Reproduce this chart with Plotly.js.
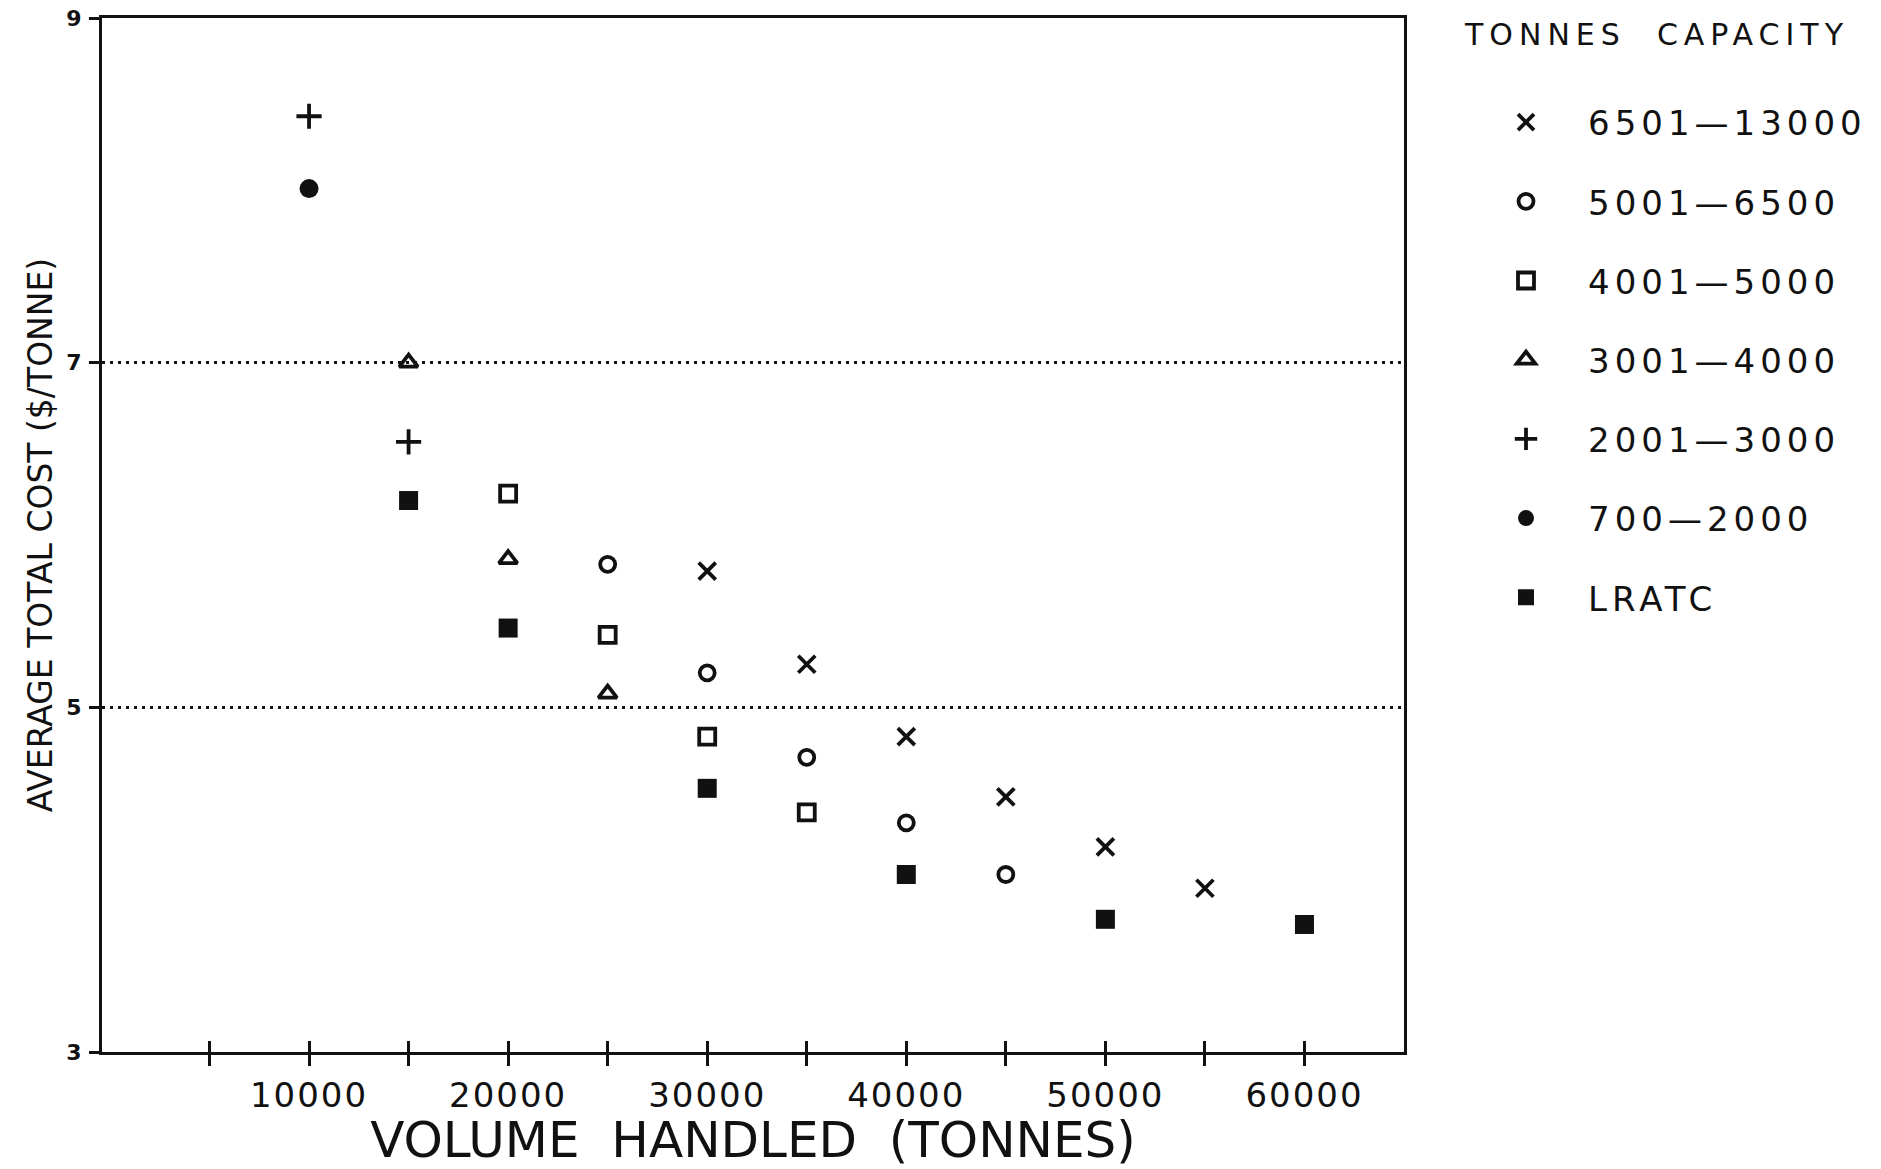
<!DOCTYPE html>
<html>
<head>
<meta charset="utf-8">
<script src="https://cdn.plot.ly/plotly-3.0.1.min.js"></script>
<style>
body{margin:0;background:#fff;}
#chart{width:1881px;height:1169px;}
.legendtext{letter-spacing:5px;}
.annotation-text{letter-spacing:6px;}
g.xtick text{letter-spacing:2px;}
</style>
</head>
<body>
<div id="chart"></div>
<script>
// ---- data ----
const legendTitle = "TONNES&nbsp;&nbsp;CAPACITY";
const seriesNames = ["6501\u201413000", "5001\u20146500", "4001\u20145000", "3001\u20144000", "2001\u20143000", "700\u20142000", "LRATC"];

const x_6501_13000 = [30000, 35000, 40000, 45000, 50000, 55000];
const y_6501_13000 = [5.79, 5.25, 4.83, 4.48, 4.19, 3.95];

const x_5001_6500 = [25000, 30000, 35000, 40000, 45000];
const y_5001_6500 = [5.83, 5.20, 4.71, 4.33, 4.03];

const x_4001_5000 = [20000, 25000, 30000, 35000];
const y_4001_5000 = [6.24, 5.42, 4.83, 4.39];

const x_3001_4000 = [15000, 20000, 25000];
const y_3001_4000 = [7.00, 5.86, 5.08];

const x_2001_3000 = [10000, 15000];
const y_2001_3000 = [8.43, 6.54];

const x_700_2000 = [10000];
const y_700_2000 = [8.01];

const x_lratc = [15000, 20000, 30000, 40000, 50000, 60000];
const y_lratc = [6.20, 5.46, 4.53, 4.03, 3.77, 3.74];

const xTickVals = [5000, 10000, 15000, 20000, 25000, 30000, 35000, 40000, 45000, 50000, 55000, 60000];
const xTickText = ["", "10000", "", "20000", "", "30000", "", "40000", "", "50000", "", "60000"];
const yTickVals = [3, 5, 7, 9];
const yTickText = ["3", "5", "7", "9"];

// ---- styles ----
const FONT = "DejaVu Sans, Liberation Sans, sans-serif";
const INK = "#111";

const xs = [x_6501_13000, x_5001_6500, x_4001_5000, x_3001_4000, x_2001_3000, x_700_2000, x_lratc];
const ys = [y_6501_13000, y_5001_6500, y_4001_5000, y_3001_4000, y_2001_3000, y_700_2000, y_lratc];
const markerStyles = [
  {symbol: "x-thin-open", size: 17, line: {width: 3.8, color: INK}, color: INK},
  {symbol: "circle-open", size: 15, line: {width: 3.8, color: INK}, color: INK},
  {symbol: "square-open", size: 16, line: {width: 3.8, color: INK}, color: INK},
  {symbol: "triangle-up-open", size: 16, line: {width: 3.8, color: INK}, color: INK},
  {symbol: "cross-thin-open", size: 18, line: {width: 3.8, color: INK}, color: INK},
  {symbol: "circle", size: 19, line: {width: 0}, color: INK},
  {symbol: "square", size: 19, line: {width: 0}, color: INK}
];

const traces = seriesNames.map((name, i) => ({
  type: "scatter",
  mode: "markers",
  name: name,
  legendgroup: "g" + i,
  x: xs[i],
  y: ys[i],
  marker: markerStyles[i],
  hoverinfo: "x+y+name"
}));

// helper empty trace so the overlay axis (crossing tick marks) is drawn
traces.push({type: "scatter", mode: "markers", x: [], y: [], xaxis: "x2", yaxis: "y", showlegend: false, hoverinfo: "skip"});

const xRange = [-400, 65000];

const layout = {
  width: 1881,
  height: 1169,
  paper_bgcolor: "#fff",
  plot_bgcolor: "#fff",
  margin: {l: 102, r: 477, t: 18, b: 117, autoexpand: false},
  showlegend: true,
  font: {family: FONT, color: INK},
  xaxis: {
    range: xRange,
    tickvals: xTickVals,
    ticktext: xTickText,
    ticks: "outside",
    ticklen: 11,
    tickwidth: 3,
    tickcolor: INK,
    ticklabelstandoff: 0,
    tickfont: {family: FONT, size: 34, color: INK},
    showline: true,
    linecolor: INK,
    linewidth: 3,
    mirror: true,
    showgrid: false,
    zeroline: false,
    title: {text: "VOLUME&nbsp;&nbsp;HANDLED&nbsp;&nbsp;(TONNES)", font: {family: FONT, size: 50, color: INK}, standoff: 35}
  },
  xaxis2: {
    overlaying: "x",
    anchor: "y",
    side: "bottom",
    range: xRange,
    tickvals: xTickVals,
    ticks: "inside",
    ticklen: 11,
    tickwidth: 3,
    tickcolor: INK,
    showticklabels: false,
    showline: false,
    showgrid: false,
    zeroline: false
  },
  yaxis: {
    range: [3, 9],
    tickvals: yTickVals,
    ticktext: yTickText,
    ticks: "outside",
    ticklen: 10,
    tickwidth: 3,
    tickcolor: INK,
    ticklabelstandoff: 3,
    tickfont: {family: FONT, size: 22, color: INK, weight: "bold"},
    showline: true,
    linecolor: INK,
    linewidth: 3,
    mirror: true,
    showgrid: true,
    gridcolor: INK,
    gridwidth: 2.5,
    griddash: "3px,5px",
    zeroline: false,
    title: {text: "AVERAGE TOTAL COST ($/TONNE)", font: {family: FONT, size: 33, color: INK}, standoff: 4}
  },
  legend: {
    x: (1464 - 102) / 1302,
    xanchor: "left",
    y: 0.927,
    yanchor: "top",
    bgcolor: "rgba(0,0,0,0)",
    borderwidth: 0,
    itemwidth: 114,
    tracegroupgap: 32,
    traceorder: "grouped",
    font: {family: FONT, size: 34, color: INK}
  },
  annotations: [{
    text: legendTitle,
    xref: "paper", yref: "paper",
    x: (1462 - 102) / 1302, xanchor: "left",
    y: 1 - (34 - 18) / 1034, yanchor: "middle",
    showarrow: false,
    font: {family: FONT, size: 30, color: INK}
  }]
};

Plotly.newPlot("chart", traces, layout, {displayModeBar: false});
</script>
</body>
</html>
